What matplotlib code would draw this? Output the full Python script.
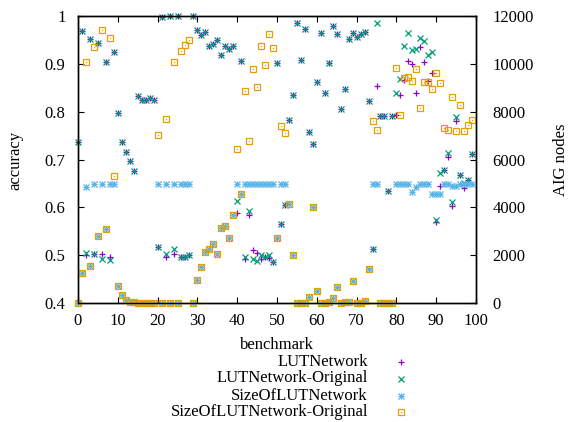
import matplotlib
matplotlib.use("Agg")
import matplotlib.pyplot as plt
from matplotlib.lines import Line2D
from matplotlib.ticker import FuncFormatter, MultipleLocator
import numpy as np

plt.rcParams['font.family'] = ['Liberation Serif', 'DejaVu Serif']
plt.rcParams['font.size'] = 12

benchmark = list(range(100))

acc_lut = [
    0.737, 0.969, 0.500, 0.951, 0.502, 0.944, 0.502, 0.904, 0.497, 0.925,
    0.797, 0.737, 0.716, 0.697, 0.676, 0.833, 0.824, 0.824, 0.828, 0.824,
    0.518, 0.997, 0.497, 0.999, 0.503, 0.999, 0.497, 0.497, 0.500, 0.999,
    0.971, 0.960, 0.966, 0.937, 0.942, 0.949, 0.918, 0.937, 0.932, 0.938,
    0.588, 0.905, 0.491, 0.584, 0.511, 0.505, 0.492, 0.497, 0.495, 0.486,
    0.902, 0.565, 0.605, 0.783, 0.835, 0.985, 0.909, 0.972, 0.758, 0.732,
    0.861, 0.965, 0.838, 0.902, 0.979, 0.962, 0.806, 0.848, 0.952, 0.964,
    0.956, 0.962, 0.966, 0.823, 0.513, 0.854, 0.790, 0.790, 0.634, 0.790,
    0.792, 0.835, 0.866, 0.906, 0.899, 0.838, 0.935, 0.904, 0.864, 0.880,
    0.570, 0.645, 0.678, 0.706, 0.603, 0.781, 0.668, 0.641, 0.657, 0.711,
]

acc_orig = [
    0.737, 0.969, 0.505, 0.951, 0.502, 0.944, 0.493, 0.904, 0.489, 0.925,
    0.797, 0.737, 0.716, 0.697, 0.676, 0.833, 0.824, 0.824, 0.828, 0.824,
    0.518, 0.997, 0.502, 0.999, 0.513, 0.999, 0.497, 0.497, 0.500, 0.999,
    0.971, 0.960, 0.966, 0.937, 0.942, 0.949, 0.918, 0.937, 0.932, 0.938,
    0.614, 0.905, 0.497, 0.592, 0.492, 0.487, 0.500, 0.497, 0.500, 0.486,
    0.902, 0.565, 0.605, 0.783, 0.835, 0.985, 0.909, 0.972, 0.758, 0.732,
    0.861, 0.965, 0.838, 0.902, 0.979, 0.962, 0.806, 0.848, 0.952, 0.964,
    0.956, 0.962, 0.966, 0.823, 0.513, 0.986, 0.790, 0.790, 0.634, 0.790,
    0.838, 0.868, 0.937, 0.964, 0.928, 0.931, 0.953, 0.948, 0.918, 0.925,
    0.574, 0.671, 0.678, 0.713, 0.612, 0.788, 0.668, 0.650, 0.657, 0.711,
]

size_lut = [
    5, 1242, 4864, 1534, 4975, 2801, 4975, 3081, 4975, 4975,
    723, 334, 125, 60, 30, 12, 10, 10, 10, 10,
    4975, 8, 4975, 8, 4975, 8, 4975, 4975, 4975, 8,
    962, 1493, 2120, 2245, 2467, 2049, 3149, 3207, 2718, 3680,
    4975, 4544, 4975, 4975, 4975, 4975, 4975, 4975, 4975, 4975,
    2704, 4975, 4975, 4139, 1994, 10, 10, 15, 265, 4026,
    489, 20, 15, 30, 195, 656, 20, 25, 30, 907,
    15, 20, 84, 1409, 4975, 4975, 10, 10, 10, 10,
    4975, 4975, 4975, 4975, 4628, 4864, 4975, 4975, 4975, 4557,
    4557, 4557, 4975, 4975, 4900, 4900, 4975, 4975, 4975, 4975,
]

size_orig = [
    5, 1242, 10089, 1534, 10716, 2801, 11402, 3081, 11093, 5310,
    723, 334, 125, 60, 30, 12, 10, 10, 10, 10,
    7037, 8, 7681, 8, 10089, 8, 10524, 10775, 10984, 8,
    962, 1493, 2120, 2245, 2467, 2049, 3149, 3207, 2718, 3680,
    6439, 4544, 8851, 6773, 9771, 9045, 10733, 9951, 11235, 10649,
    2704, 7388, 7095, 4139, 1994, 10, 10, 15, 265, 4026,
    489, 20, 15, 30, 195, 656, 20, 25, 30, 907,
    15, 20, 84, 1409, 7596, 7233, 10, 10, 10, 10,
    9839, 7847, 9395, 9462, 9282, 9771, 8166, 9260, 9226, 8947,
    9617, 9212, 7329, 7233, 8626, 7191, 8264, 7191, 7442, 7651,
]

series_names = ["LUTNetwork", "LUTNetwork-Original",
                "SizeOfLUTNetwork", "SizeOfLUTNetwork-Original"]

PURPLE = "#9400D3"
GREEN = "#009E73"
BLUE = "#56B4E9"
ORANGE = "#E69F00"

W, H = 571, 422
fig = plt.figure(figsize=(W / 100, H / 100), dpi=100)
ax = fig.add_axes([78 / W, 1 - 303 / H, (476 - 78) / W, (303 - 16) / H])
ax2 = ax.twinx()

ms = 4.6
lw = 0.9
common = dict(linestyle="none", clip_on=False)

ax.plot(benchmark, acc_lut, marker="+", ms=ms, mew=lw, color=PURPLE, **common)
ax.plot(benchmark, acc_orig, marker="x", ms=ms, mew=lw, color=GREEN, **common)
ax2.plot(benchmark, size_lut, marker="+", ms=ms, mew=lw, color=BLUE, **common)
ax2.plot(benchmark, size_lut, marker="x", ms=ms, mew=lw, color=BLUE, **common)
ax2.plot(benchmark, size_orig, marker="s", ms=ms + 0.4, mew=lw, mfc="none",
         mec=ORANGE, **common)
ax2.plot(benchmark, size_orig, marker="o", ms=1.0, mew=0, color=ORANGE, **common)

ax.set_xlim(0, 100)
ax.set_ylim(0.4, 1.0)
ax2.set_ylim(0, 12000)

ax.xaxis.set_major_locator(MultipleLocator(10))
ax.yaxis.set_major_locator(MultipleLocator(0.1))
ax2.yaxis.set_major_locator(MultipleLocator(2000))
ax.yaxis.set_major_formatter(FuncFormatter(lambda v, _: f"{v:g}"))
ax2.yaxis.set_major_formatter(FuncFormatter(lambda v, _: f"{v:g}"))

ax.tick_params(axis="x", direction="in", length=4, width=0.8, top=True,
               pad=7, labelsize=12)
ax.tick_params(axis="y", direction="in", length=4, width=0.8, right=False,
               pad=9, labelsize=12)
ax2.tick_params(axis="y", direction="in", length=4, width=0.8, left=False,
                pad=12, labelsize=12)

for a in (ax, ax2):
    for s in a.spines.values():
        s.set_linewidth(1.0)
        s.set_color("black")

fig.text(15 / W, 1 - 160 / H, "accuracy", rotation=90, ha="center",
         va="center", fontsize=12)
fig.text(561 / W, 1 - 160 / H, "AIG nodes", rotation=90, ha="center",
         va="center", fontsize=12)
fig.text(277 / W, 1 - 345 / H, "benchmark", ha="center", va="center",
         fontsize=12)

# legend rows: text right-aligned, sample marker to the right
rows_y = [361.5, 378.5, 395.5, 412]
styles = [
    [dict(marker="+", color=PURPLE)],
    [dict(marker="x", color=GREEN)],
    [dict(marker="+", color=BLUE), dict(marker="x", color=BLUE)],
    [dict(marker="s", color=ORANGE, mfc="none", mec=ORANGE),
     dict(marker="o", color=ORANGE, ms=1.0, mew=0)],
]
for name, yy, st in zip(series_names, rows_y, styles):
    fy = 1 - yy / H
    fig.text(368 / W, fy, name, ha="right", va="center", fontsize=12)
    for s in st:
        kw = dict(ms=ms, mew=lw, linestyle="none")
        kw.update(s)
        fig.add_artist(Line2D([401 / W], [fy], transform=fig.transFigure, **kw))

fig.savefig("out.png", dpi=100)
